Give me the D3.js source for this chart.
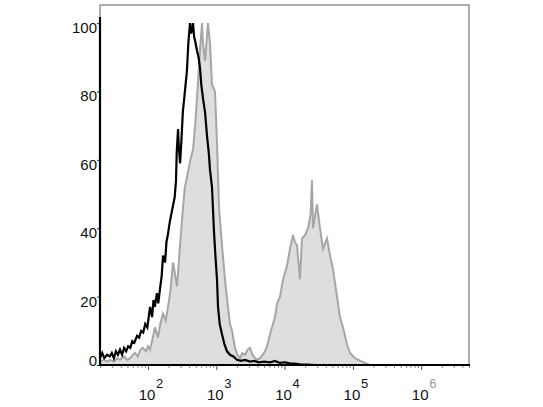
<!DOCTYPE html>
<html>
<head>
<meta charset="utf-8">
<script src="https://cdnjs.cloudflare.com/ajax/libs/d3/7.8.5/d3.min.js"></script>
<style>
  body { margin: 0; background: #fff; }
  svg { display: block; }
</style>
</head>
<body>
<svg id="chart" width="543" height="407"></svg>
<script>
// y tick values (% of max) and x decade exponents
var yTicks = [0, 20, 40, 60, 80, 100];
var xDecades = [2, 3, 4, 5, 6];

// isotype control (black), x = log10 of intensity, y = % of max
var ctrlLog = [1.297, 1.33, 1.36, 1.40, 1.44, 1.47, 1.50, 1.53, 1.56, 1.59, 1.62, 1.65, 1.68, 1.71, 1.74, 1.77,
  1.80, 1.84, 1.87, 1.90, 1.93, 1.96, 1.99, 2.03, 2.06, 2.08, 2.10, 2.13, 2.15, 2.18, 2.20, 2.22, 2.25,
  2.27, 2.29, 2.32, 2.35, 2.37, 2.39, 2.41, 2.42, 2.44, 2.45, 2.47, 2.49, 2.51, 2.54, 2.57, 2.59, 2.615,
  2.63, 2.644, 2.659, 2.675, 2.688, 2.717, 2.74, 2.761, 2.78, 2.805, 2.835, 2.864, 2.89, 2.908, 2.937,
  2.966, 2.99, 3.01, 3.025, 3.05, 3.083, 3.12, 3.157, 3.20, 3.25, 3.303, 3.36, 3.42, 3.493, 3.56, 3.62,
  3.70, 3.786, 3.86, 3.93, 4.0, 4.079, 4.15, 4.225, 4.32, 4.45, 4.60, 5.0, 5.5, 6.0, 6.70];
var ctrlPct = [2, 3.5, 2, 3, 2.5, 3.5, 2, 4, 3, 4.5, 3, 5, 4, 5.5, 5, 7,
  6.5, 8.5, 8, 10, 9.5, 12, 11, 17, 14, 19, 17, 21, 18, 23, 26, 32, 30,
  36, 38, 42, 45, 47, 49, 54, 62, 69, 64, 59, 66, 74, 80, 86, 94, 100,
  97, 98, 100, 96, 95, 92, 90, 87, 82, 78, 74, 67, 62, 57, 52,
  39, 31, 25, 17, 12, 9, 6, 4, 3, 2.5, 1.5, 1.2, 1.5, 1, 1.2, 0.8,
  1, 0.8, 1.2, 0.6, 0.8, 0.5, 0.4, 0.2, 0.1, 0, 0, 0, 0, 0, 0];

// stained sample (gray, filled)
var stainLog = [1.297, 1.35, 1.40, 1.444, 1.50, 1.55, 1.59, 1.65, 1.70, 1.736, 1.78, 1.81, 1.85, 1.89,
  1.927, 1.97, 2.00, 2.029, 2.06, 2.08, 2.102, 2.146, 2.18, 2.22, 2.26, 2.293, 2.33, 2.366, 2.40, 2.425,
  2.469, 2.512, 2.54, 2.571, 2.62, 2.659, 2.69, 2.717, 2.761, 2.791, 2.805, 2.835, 2.878, 2.908, 2.937,
  2.96, 2.981, 3.01, 3.04, 3.083, 3.127, 3.171, 3.20, 3.23, 3.274, 3.31, 3.347, 3.38, 3.42, 3.46, 3.493,
  3.53, 3.567, 3.60, 3.64, 3.68, 3.713, 3.75, 3.786, 3.83, 3.86, 3.889, 3.933, 3.977, 4.035, 4.079, 4.123,
  4.15, 4.182, 4.225, 4.255, 4.299, 4.343, 4.38, 4.401, 4.416, 4.474, 4.518, 4.562, 4.621, 4.665, 4.709,
  4.767, 4.811, 4.855, 4.914, 4.958, 5.031, 5.133, 5.25, 5.6, 6.70];
var stainPct = [1, 1.5, 1, 1.5, 1, 2, 1.5, 2.5, 1.5, 2, 3, 3.5, 2.5, 4.5,
  5, 4, 5.5, 4.5, 7, 9, 11, 8, 12, 15, 13, 17, 22, 30, 26, 23,
  35, 46, 52, 55, 60, 63, 70, 78, 92, 100, 94, 89, 100, 94, 82,
  81, 80, 65, 46, 35, 25, 17, 12, 10, 5, 3, 2, 3.5, 3, 4.5, 5,
  3, 2, 1.5, 2, 3, 4, 6, 9, 12, 14, 18, 20, 25, 29, 34, 38,
  36, 35, 25, 37, 38, 40, 44, 54, 40, 47, 40, 34, 37, 32, 28,
  20, 14, 11, 6, 3.5, 2, 1, 0, 0, 0];

var svg = d3.select("#chart");
var plotL = 100, plotR = 469, plotT = 5, plotB = 365;

var x = d3.scaleLog()
  .domain([Math.pow(10, 1.297), Math.pow(10, 6.70)])
  .range([plotL, plotR]);
var y = d3.scaleLinear()
  .domain([0, 105.3])
  .range([plotB, plotT]);

function pts(logs, pcts) {
  return logs.map(function (d, i) { return [Math.pow(10, d), pcts[i]]; });
}
var ctrl = pts(ctrlLog, ctrlPct);
var stain = pts(stainLog, stainPct);

var area = d3.area()
  .x(function (d) { return x(d[0]); })
  .y0(y(0))
  .y1(function (d) { return y(d[1]); });
var line = d3.line()
  .x(function (d) { return x(d[0]); })
  .y(function (d) { return y(d[1]); });

// frame: thin gray top/right
svg.append("rect")
  .attr("x", plotL).attr("y", plotT)
  .attr("width", plotR - plotL).attr("height", plotB - plotT)
  .attr("fill", "none").attr("stroke", "#777").attr("stroke-width", 1.2);

svg.append("path")
  .attr("d", area(stain))
  .attr("fill", "#dedede");
svg.append("path")
  .attr("d", line(stain))
  .attr("fill", "none").attr("stroke", "#a6a6a6").attr("stroke-width", 2);
svg.append("path")
  .attr("d", line(ctrl))
  .attr("fill", "none").attr("stroke", "#000").attr("stroke-width", 2.2)
  .attr("stroke-linejoin", "miter");

// x axis: minor ticks gray, then black axis line
var minor = [];
for (var e = 1; e <= 6; e++) {
  for (var m = 1; m < 10; m++) {
    var v = m * Math.pow(10, e);
    if (v >= x.domain()[0] && v <= x.domain()[1]) minor.push(v);
  }
}
var xAxis = d3.axisBottom(x).tickValues(minor).tickSize(3).tickFormat("");
var gx = svg.append("g")
  .attr("transform", "translate(0," + plotB + ")")
  .call(xAxis);
gx.select(".domain").remove();
gx.selectAll(".tick line").attr("stroke", "#888");
gx.selectAll(".tick line").filter(function (d) {
  return Math.abs(Math.log10(d) - Math.round(Math.log10(d))) < 1e-9;
}).attr("y2", 5).attr("stroke", "#555");

svg.append("line")
  .attr("x1", plotL - 1).attr("x2", plotR + 1)
  .attr("y1", plotB).attr("y2", plotB)
  .attr("stroke", "#000").attr("stroke-width", 2.2);

var xl = svg.append("g").attr("font-family", "Liberation Sans, Arial, sans-serif").attr("fill", "#111");
xDecades.forEach(function (p) {
  var px = x(Math.pow(10, p));
  xl.append("text")
    .attr("x", px - 1).attr("y", 400)
    .attr("text-anchor", "middle")
    .attr("font-size", 15)
    .text("10");
  xl.append("text")
    .attr("x", px + 8).attr("y", 388)
    .attr("font-size", 13)
    .attr("fill", p === 6 ? "#999" : "#111")
    .text(p);
});

// y axis
var yAxis = d3.axisLeft(y).tickValues(yTicks).tickSize(3).tickFormat("");
var gy = svg.append("g")
  .attr("transform", "translate(" + plotL + ",0)")
  .call(yAxis);
gy.select(".domain").remove();
gy.selectAll(".tick line").attr("stroke", "#333");

svg.append("line")
  .attr("x1", plotL).attr("x2", plotL)
  .attr("y1", plotT + 12).attr("y2", plotB + 1)
  .attr("stroke", "#000").attr("stroke-width", 2.2);

svg.append("g")
  .selectAll("text")
  .data(yTicks)
  .join("text")
  .attr("x", 97)
  .attr("y", function (d) { return Math.min(y(d) + 5, 361) + 5; })
  .attr("text-anchor", "end")
  .attr("font-family", "Liberation Sans, Arial, sans-serif")
  .attr("font-size", 15)
  .attr("fill", "#111")
  .text(function (d) { return d; });
</script>
</body>
</html>
